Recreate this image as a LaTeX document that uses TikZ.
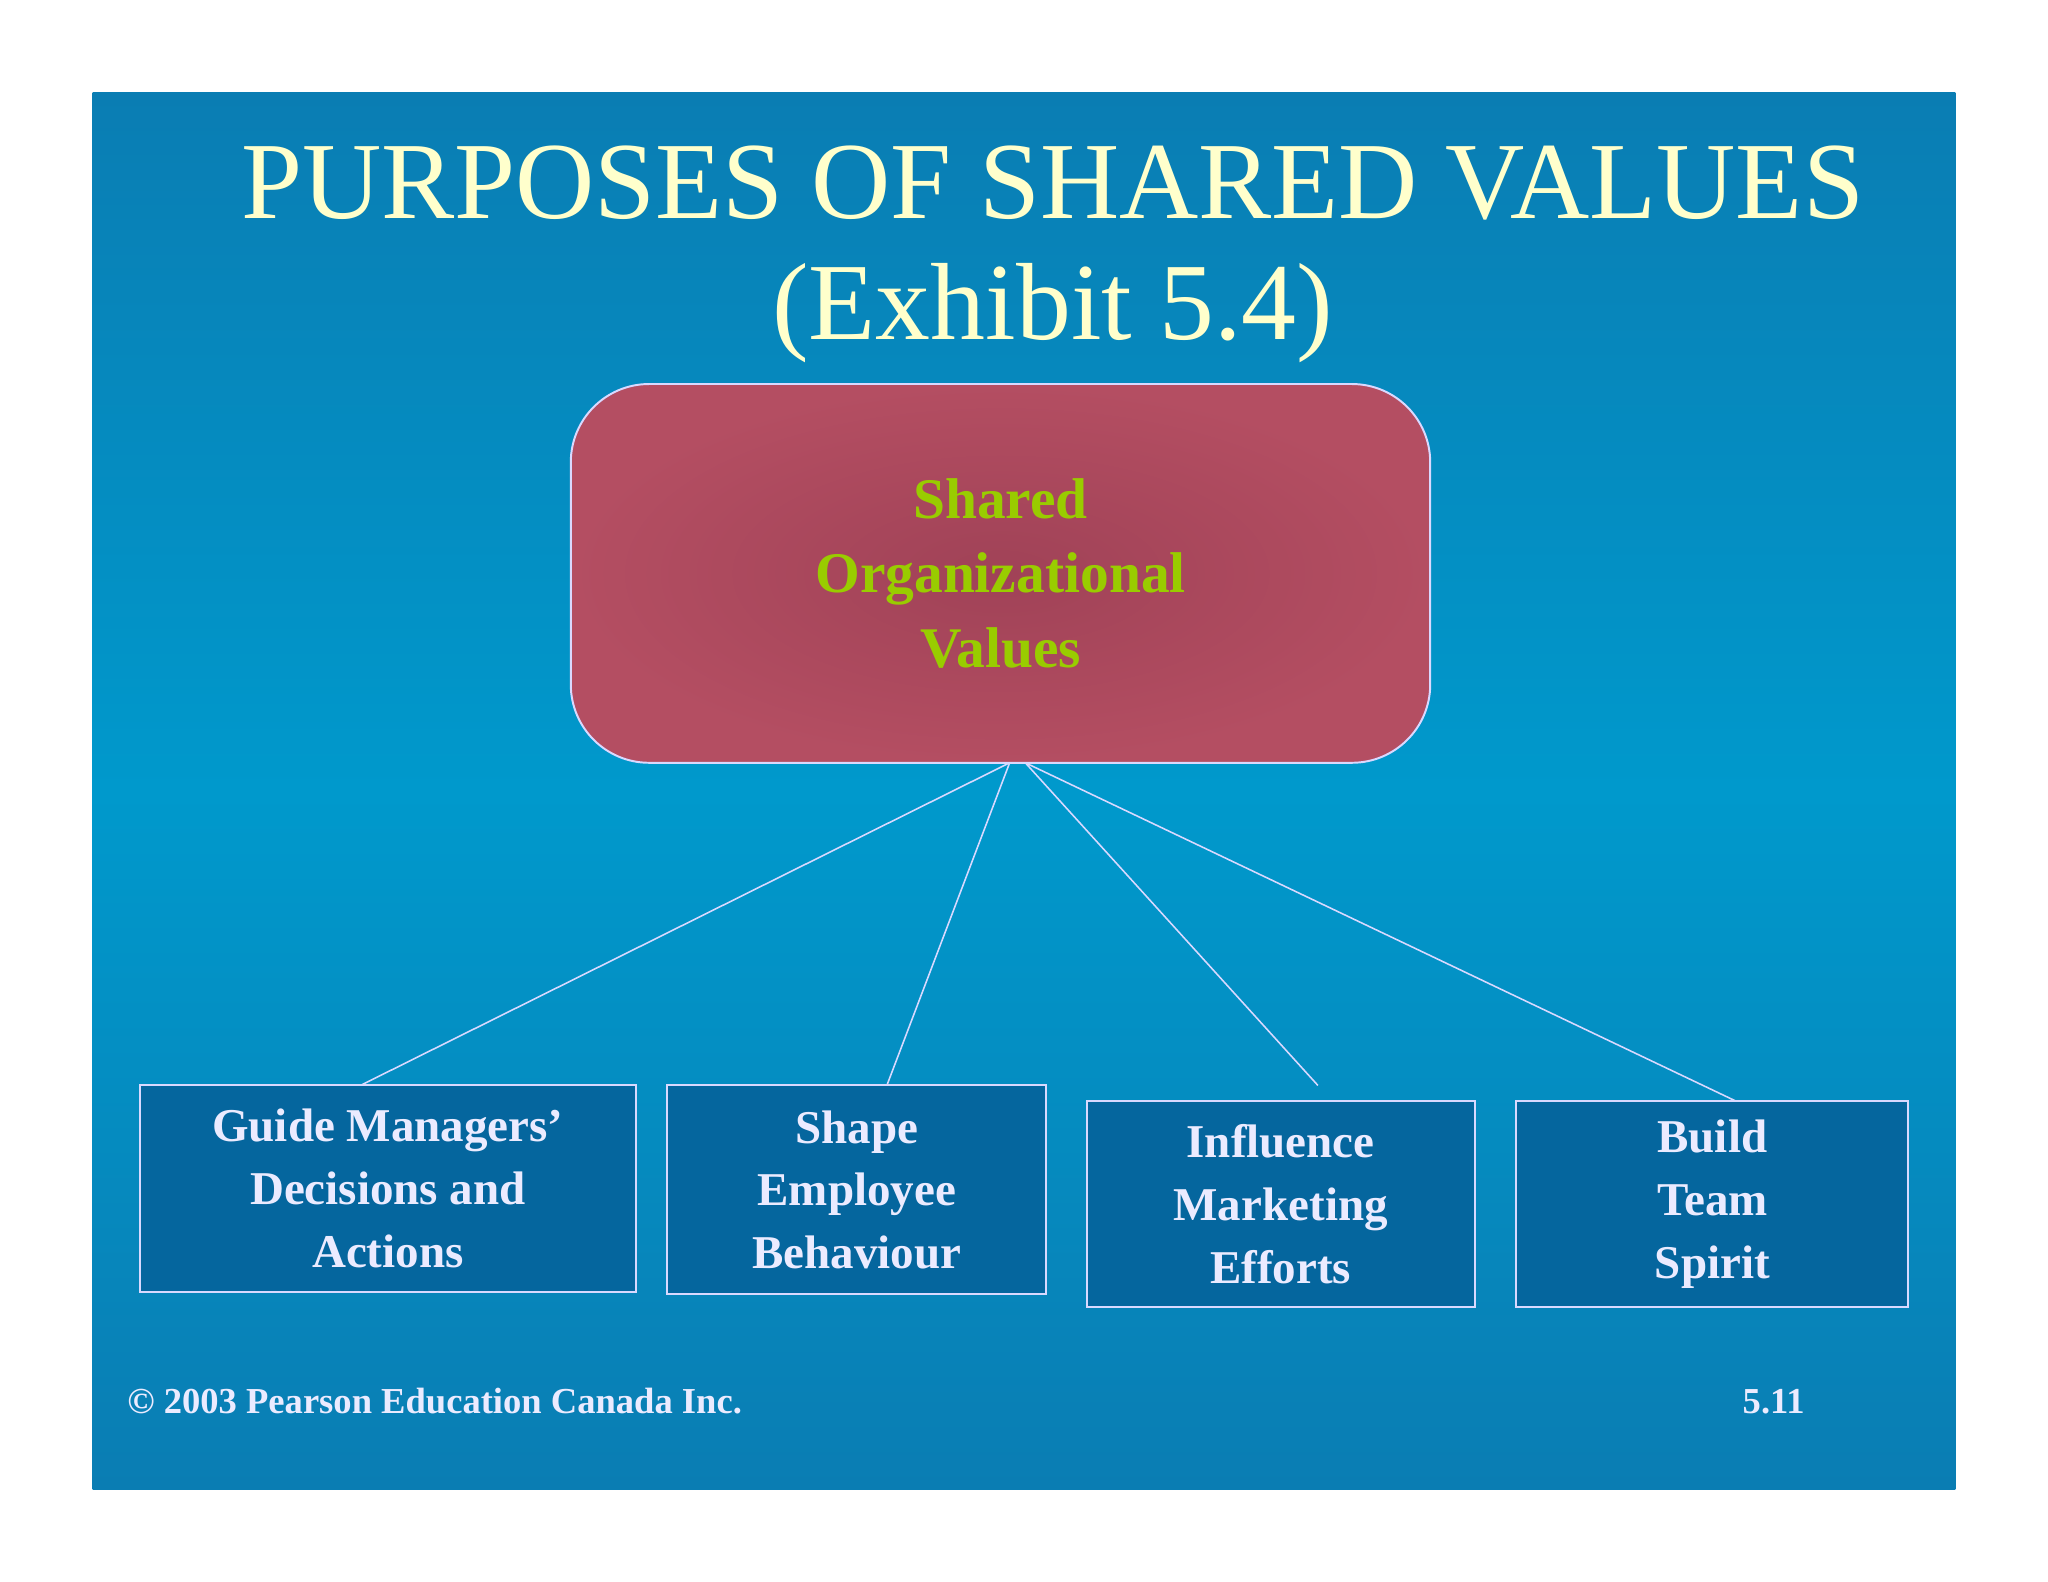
\documentclass[tikz,border=0pt]{standalone}
\usepackage{fontspec}
\setmainfont{Liberation Serif}
\definecolor{bgtop}{HTML}{0A7DB3}
\definecolor{bgmid}{HTML}{0099CC}
\definecolor{redb}{HTML}{B44E62}
\definecolor{redc}{HTML}{A04257}
\definecolor{boxb}{HTML}{05669E}
\definecolor{titlec}{HTML}{FFFFCC}
\definecolor{greenc}{HTML}{99CC00}
\tikzset{x=1pt,y=-1pt,
 leaf/.style={draw=white!85!blue,line width=1.5pt,fill=boxb,text=white!92!blue,font=\bfseries\fontsize{36}{48}\selectfont,align=center,inner sep=0pt},
 link/.style={draw=white!85!blue,line width=1.2pt}}
\begin{document}
\begin{tikzpicture}
\useasboundingbox (0,0) rectangle (1568,1211);
\fill[white] (0,0) rectangle (1568,1211);
\shade[top color=bgtop,bottom color=bgtop,middle color=bgmid] (71,71) rectangle (1497,1140);
\node (t1) at (806,140) {\color{titlec}\fontsize{84}{96}\selectfont PURPOSES OF SHARED VALUES};
\node (t2) at (806,240) {\color{titlec}\fontsize{84}{96}\selectfont (Exhibit 5.4)};
\shade[rounded corners=60pt,inner color=redc,outer color=redb,draw=white!85!blue,line width=1.5pt] (437,294) rectangle (1095,584);
\node (root) at (766,439) [align=center,text=greenc,font=\bfseries\fontsize{44}{57}\selectfont] {Shared\\Organizational\\Values};
\coordinate (ra) at (773,584);
\coordinate (rb) at (785,584);
\node[leaf,minimum width=380pt,minimum height=158pt] (b1) at (297,910) {Guide Managers’\\Decisions and\\Actions};
\node[leaf,minimum width=290pt,minimum height=160pt] (b2) at (656,911) {Shape\\Employee\\Behaviour};
\node[leaf,minimum width=297pt,minimum height=158pt] (b3) at (980.5,922) {Influence\\Marketing\\Efforts};
\node[leaf,minimum width=300pt,minimum height=158pt] (b4) at (1311,922) {Build\\Team\\Spirit};
\coordinate (e1) at (276,831);
\coordinate (e2) at (679,831);
\coordinate (e3) at (1009,831);
\coordinate (e4) at (1329,843);
\draw[link] (ra) -- (e1);
\draw[link] (ra) -- (e2);
\draw[link] (rb) -- (e3);
\draw[link] (rb) -- (e4);
\draw[link] (ra) -- (rb);
\node[anchor=west,text=white!92!blue,font=\bfseries\fontsize{28}{34}\selectfont] (f1) at (94,1073) {© 2003 Pearson Education Canada Inc.};
\node[text=white!92!blue,font=\bfseries\fontsize{28}{34}\selectfont] (f2) at (1358,1073) {5.11};
\end{tikzpicture}
\end{document}
